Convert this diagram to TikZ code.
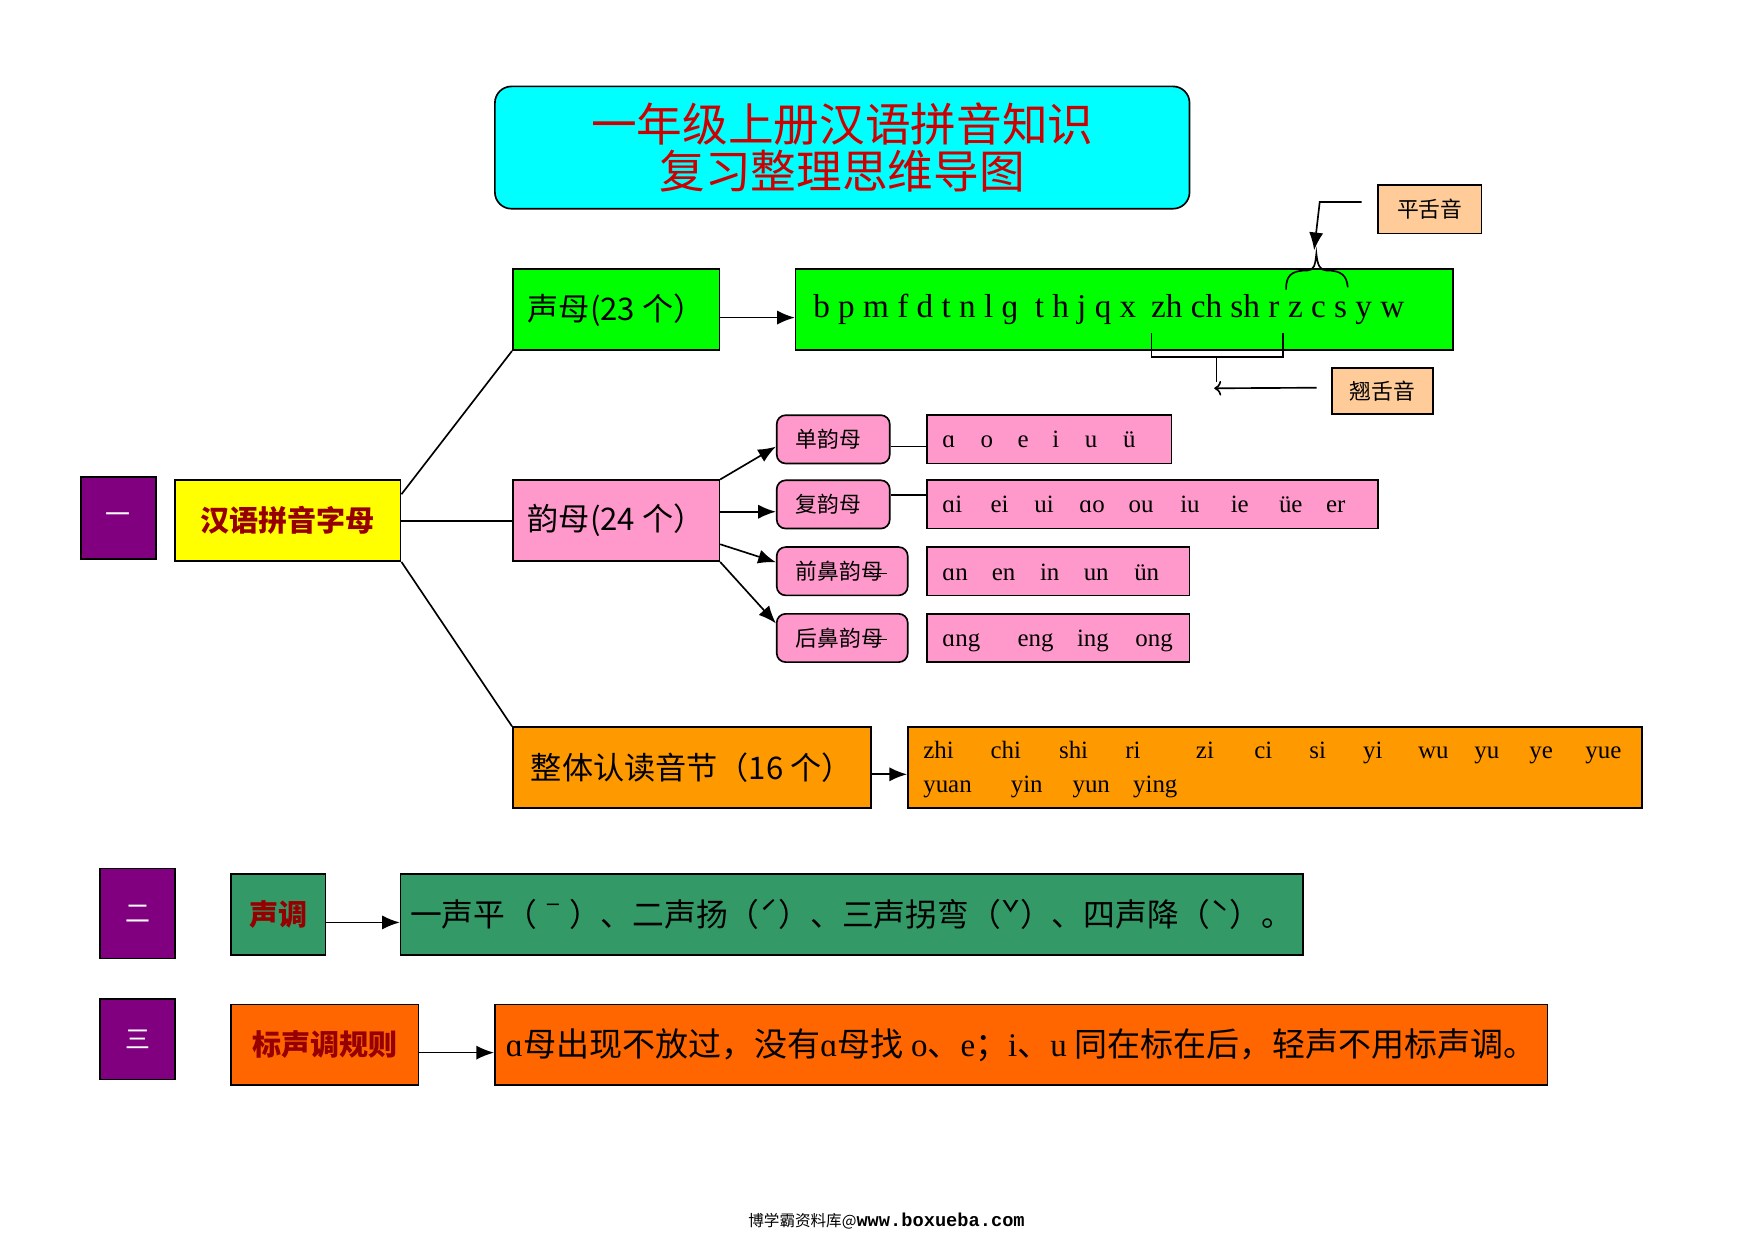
\documentclass[tikz,border=0pt]{standalone}
\usepackage{fontspec}
\setmainfont{Liberation Serif}
\newfontfamily\cjk{Noto Sans CJK SC}
\newfontfamily\lat{Liberation Serif}
\newfontfamily\urlfont{Liberation Mono}
\usetikzlibrary{arrows.meta,calc}

\definecolor{ttlcyan}{RGB}{0,255,255}
\definecolor{ttlred}{RGB}{204,0,0}
\definecolor{numpurple}{RGB}{128,0,128}
\definecolor{keyyellow}{RGB}{255,255,0}
\definecolor{keyred}{RGB}{150,0,0}
\definecolor{smgreen}{RGB}{0,255,0}
\definecolor{ympink}{RGB}{255,153,204}
\definecolor{ztorange}{RGB}{255,153,0}
\definecolor{sdgreen}{RGB}{51,153,102}
\definecolor{bzorange}{RGB}{255,102,0}
\definecolor{tagpeach}{RGB}{255,204,153}

\def\pu{0.019cm}

\tikzset{
	box/.style={draw, line width=.8pt, inner sep=0pt, align=center},
	numbox/.style={box, fill=numpurple, text=white, minimum width=67*\pu, font=\cjk\fontsize{12}{14}\selectfont},
	keybox/.style={box, text=keyred, minimum height=72*\pu, font=\cjk\bfseries\fontsize{14}{16}\selectfont},
	midbox/.style={box, minimum height=72*\pu, font=\cjk\fontsize{15}{17}\selectfont},
	subbox/.style={box, fill=ympink, rounded corners=.15cm, inner xsep=.32cm, align=left, minimum height=43*\pu, font=\cjk\fontsize{10.5}{12}\selectfont},
	listbox/.style={box, fill=ympink, minimum height=43*\pu},
	tagbox/.style={box, fill=tagpeach, font=\cjk\fontsize{10.5}{12}\selectfont},
	pyword/.style={inner sep=0pt, anchor=base west, font=\lat\fontsize{12}{14}\selectfont},
	initword/.style={inner sep=0pt, anchor=base west, font=\lat\fontsize{16}{18}\selectfont},
	arr/.style={-{Latex[length=3mm,width=2.4mm]}},
}

\begin{document}
\begin{tikzpicture}[x=\pu, y=-\pu, line width=.8pt]
	\useasboundingbox (0,0) rectangle (1563,1106);

	% title
	\node[box, fill=ttlcyan, rounded corners=.28cm, minimum width=619*\pu, minimum height=109*\pu, text=ttlred, font=\cjk\fontsize{22}{23}\selectfont] (title) at (750.5,131.5) {一年级上册汉语拼音知识\\复习整理思维导图};

	% part one
	\node[numbox, minimum height=73*\pu] (one) at (105.5,461.5) {一};
	\node[keybox, fill=keyyellow, minimum width=201*\pu] (pinyin) at (256.5,464) {汉语拼音字母};

	\node[midbox, fill=smgreen, minimum width=184*\pu] (shengmu) at (549,276) {声母(23 个）};
	\node[box, fill=smgreen, minimum width=586*\pu, minimum height=72*\pu] (smlist) at (1002,276) {};
	\node[initword] (smA) at (724,283) {b p m f d t n l ɡ\ \ t h j q x};
	\node[initword] (smB) at (1025,283) {zh ch sh r};
	\node[initword] (smC) at (1147,283) {z c s y w};

	\node[midbox, fill=ympink, minimum width=184*\pu] (yunmu) at (549,464) {韵母(24 个）};
	\node[subbox, text width=1.273cm] (dan) at (742.5,391.5) {单韵母};
	\node[subbox, text width=1.273cm] (fu) at (742.5,449.5) {复韵母};
	\node[subbox, text width=1.577cm] (qian) at (750.5,509) {前鼻韵母};
	\node[subbox, text width=1.577cm] (hou) at (750.5,568.5) {后鼻韵母};
	\draw (771,511) to (790,511);
	\draw (771,570) to (790,570);

	\node[listbox, minimum width=218*\pu] (danlist) at (935,391.5) {};
	\node[listbox, minimum width=402*\pu] (fulist) at (1027,449.5) {};
	\node[listbox, minimum width=234*\pu] (qianlist) at (943,509) {};
	\node[listbox, minimum width=234*\pu] (houlist) at (943,568.5) {};
	\foreach \w/\x in {ɑ/839,o/873,e/906,i/937,u/966,ü/1000}
		\node[pyword] (dan-\x) at (\x,399) {\w};
	\foreach \w/\x in {ɑi/839,ei/882,ui/921,ɑo/961,ou/1005,iu/1051,ie/1096,üe/1139,er/1181}
		\node[pyword] (fu-\x) at (\x,457) {\w};
	\foreach \w/\x in {ɑn/839,en/883,in/926,un/965,ün/1010}
		\node[pyword] (qian-\x) at (\x,517) {\w};
	\foreach \w/\x in {ɑng/839,eng/906,ing/959,ong/1011}
		\node[pyword] (hou-\x) at (\x,576) {\w};

	\node[midbox, fill=ztorange, minimum width=319*\pu] (zhengti) at (616.5,684) {整体认读音节（16 个）};
	\node[box, fill=ztorange, minimum width=654*\pu, minimum height=72*\pu] (ztlist) at (1136,684) {};
	\foreach \w/\x in {zhi/822,chi/882,shi/943,ri/1002,zi/1065,ci/1117,si/1166,yi/1214,wu/1263,yu/1313,ye/1362,yue/1412}
		\node[pyword] (zt-\x) at (\x,676) {\w};
	\foreach \w/\x in {yuan/822,yin/900,yun/955,ying/1009}
		\node[pyword] (ztb-\x) at (\x,706) {\w};

	% brackets and tags
	\node[tagbox, minimum width=92*\pu, minimum height=43*\pu] (ping) at (1274,186.5) {平舌音};
	\node[tagbox, minimum width=90*\pu, minimum height=41*\pu] (qiao) at (1232,348.5) {翘舌音};
	\coordinate (pingbend) at (1176,180);
	\coordinate (pingtip) at (1171,223);
	\coordinate (qiaotip) at (1082,346);
	\draw (1146,258) .. controls (1146,246) and (1150,241) .. (1165,241) .. controls (1171,241) and (1172,236) .. (1173,226) .. controls (1174,236) and (1176,241) .. (1182,241) .. controls (1196,241) and (1200,246) .. (1201,256);
	\draw[arr] ($(ping.west)+(-14,-6.5)$) -- (pingbend) -- (pingtip);
	\draw (1026,297) -- (1026,318) -- (1143,318) -- (1143,297);
	\draw (1084,318) to (1084,340);
	\draw[->] ($(qiao.west)+(-13,-3)$) to (qiaotip);

	% part two
	\node[numbox, minimum height=80*\pu] (two) at (122.5,814) {二};
	\node[keybox, fill=sdgreen, minimum width=84*\pu] (shengdiao) at (248,815) {声调};
	\node[box, fill=sdgreen, minimum width=804*\pu, minimum height=72*\pu, font=\cjk\fontsize{15.3}{17}\selectfont] (sdlist) at (759,815) {一声平（ˉ）、二声扬（ˊ）、三声拐弯（ˇ）、四声降（ˋ）。};

	% part three
	\node[numbox, minimum height=72*\pu] (three) at (122.5,926) {三};
	\node[keybox, fill=bzorange, minimum width=167*\pu] (biaodiao) at (289.5,931) {标声调规则};
	\node[box, fill=bzorange, minimum width=938*\pu, minimum height=72*\pu, font=\cjk\fontsize{15.9}{17}\selectfont] (rule) at (910,931) {{\lat ɑ}母出现不放过，没有{\lat ɑ}母找 {\lat o}、{\lat e}；{\lat i}、{\lat u} 同在标在后，轻声不用标声调。};

	% connectors
	\draw ([yshift=-.25cm]pinyin.north east) to (shengmu.south west);
	\draw (pinyin.east) to (yunmu.west);
	\draw (pinyin.south east) to (zhengti.north west);
	\draw[arr] ($(shengmu.east)+(0,7)$) to ($(smlist.west)+(0,7)$);
	\draw[arr] (yunmu.north east) to ($(dan.west)+(0,6.5)$);
	\draw[arr] ($(yunmu.east)+(0,-8)$) to ($(yunmu.east -| fu.west)+(0,-8)$);
	\draw[arr] ($(yunmu.east)+(0,21)$) to ($(qian.west)+(0,-8)$);
	\draw[arr] (yunmu.south east) to ($(hou.west)+(0,-13)$);
	\draw ($(dan.east)+(0,6.5)$) to ($(dan.east -| danlist.west)+(0,6.5)$);
	\draw ($(fu.east)+(0,-8.5)$) to ($(fu.east -| fulist.west)+(0,-8.5)$);
	\draw[arr] ($(zhengti.east)+(0,6)$) to ($(ztlist.west)+(0,6)$);
	\draw[arr] ($(shengdiao.east)+(0,7)$) to ($(sdlist.west)+(0,7)$);
	\draw[arr] ($(biaodiao.east)+(0,7)$) to ($(rule.west)+(0,7)$);

	% footer
	\node[inner sep=0pt] (foot) at (790,1088) {{\cjk\fontsize{7.5}{9}\selectfont 博学霸资料库@}{\urlfont\bfseries\fontsize{9}{10}\selectfont www.boxueba.com}};
\end{tikzpicture}
\end{document}
